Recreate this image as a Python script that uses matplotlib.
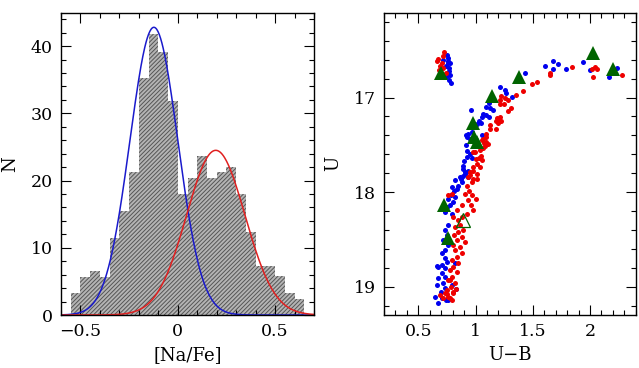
import numpy as np
import matplotlib
matplotlib.use("Agg")
from matplotlib import pyplot as plt
from matplotlib.ticker import MultipleLocator, FuncFormatter

plt.rcParams['font.family'] = ['DejaVu Serif']
plt.rcParams['hatch.linewidth'] = 0.7

# histogram of [Na/Fe], bins of 0.05 starting at -0.55
counts = [3.2, 5.7, 6.5, 5.7, 11.4, 15.5, 21.2, 35.2, 41.8, 39.1, 31.9, 18.0,
          20.4, 23.7, 20.4, 21.2, 22.0, 18.0, 12.3, 7.3, 7.3, 5.8, 3.2, 2.4]
bin_width = 0.05
bin_left = np.round(-0.55 + bin_width * np.arange(len(counts)), 3)

# gaussian fits (amplitude, centre, sigma)
blue_fit = (42.8, -0.123, 0.123)
red_fit = (24.5, 0.195, 0.150)

# CMD, blue (Na-poor) stars
blue_ub = [0.747, 0.762, 0.756, 0.770, 0.762, 0.747, 0.770, 0.782, 0.733, 0.718, 0.741, 0.776,
           0.755, 0.768, 0.775,
           1.43, 1.61, 1.68, 1.72, 1.68, 1.79, 1.94, 2.00, 2.17, 2.24,
           1.212, 1.255, 1.27, 1.322, 1.119, 0.956, 1.095, 1.125, 1.148, 1.066, 1.09, 1.052,
           1.119, 1.032, 1.014, 1.043, 0.936, 0.965, 0.921, 1.052, 0.95, 0.927, 0.95, 0.965,
           0.898, 0.886, 0.921, 0.936, 0.907, 0.863, 0.82, 0.936, 0.892,
           0.907, 0.892, 0.872, 0.878, 0.849, 0.834, 0.814, 0.796, 0.785, 0.82, 0.762, 0.805,
           0.776, 0.747, 0.733, 0.791, 0.762, 0.733, 0.747, 0.718, 0.756, 0.733, 0.704, 0.733,
           0.747, 0.704, 0.733, 0.669, 0.704, 0.733, 0.674, 0.718, 0.66, 0.733, 0.698, 0.645,
           0.704, 0.738, 0.674, 0.762, 0.791, 0.82, 0.66, 0.83, 0.92, 0.92]
blue_u = [16.545, 16.58, 16.633, 16.685, 16.738, 16.773, 16.81, 16.843, 16.783, 16.598, 16.668, 16.633,
          16.61, 16.72, 16.76,
          16.74, 16.67, 16.61, 16.64, 16.70, 16.70, 16.62, 16.71, 16.78, 16.69,
          16.887, 16.923, 16.947, 16.993, 17.052, 17.133, 17.098, 17.112, 17.133, 17.175, 17.182, 17.21,
          17.21, 17.245, 17.28, 17.273, 17.386, 17.361, 17.42, 17.393, 17.438, 17.561, 17.596, 17.638,
          17.673, 17.719, 17.624, 17.772, 17.807, 17.842, 17.87, 17.842, 17.754,
          17.79, 17.825, 17.86, 17.895, 17.93, 17.965, 17.983, 17.947, 18.035, 18.053, 18.07, 18.105,
          18.14, 18.158, 18.21, 18.228, 18.351, 18.404, 18.456, 18.509, 18.561, 18.614, 18.649, 18.702,
          18.737, 18.772, 18.807, 18.79, 18.86, 18.895, 18.912, 18.965, 18.983, 19.018, 19.053, 19.105,
          19.123, 19.14, 19.175, 19.14, 18.983, 18.755, 18.78, 19.03, 17.40, 17.50]

# CMD, red (Na-rich) stars
red_ub = [0.724, 0.674, 0.703, 0.689, 0.683, 0.718, 0.741, 0.666, 0.712,
          1.84, 1.65, 1.65, 1.49, 1.54, 2.04, 2.06, 2.02, 2.03, 2.28,
          1.226, 1.255, 1.284, 1.217, 1.212, 1.246, 1.307, 1.284, 1.351, 1.415,
          1.183, 1.206, 1.177, 1.212, 1.197, 1.226, 1.13, 1.125, 1.177,
          1.066, 1.095, 1.081, 1.11, 1.061, 1.09, 1.095, 0.994, 1.032, 1.052, 1.014, 0.979,
          1.037, 0.979, 1.008, 0.979, 0.95, 1.008, 1.06, 1.07, 1.04, 1.05, 0.98, 1.00,
          0.95, 0.936, 0.965, 0.921, 0.942, 0.907, 0.965, 0.93, 0.959, 0.878, 0.979, 0.921,
          0.878, 0.834, 0.762, 0.791, 0.805, 0.843, 0.863, 0.82, 0.892, 0.849, 0.814, 0.878,
          0.834, 0.907, 0.805, 0.863, 0.82, 0.878, 0.834, 0.791, 0.849, 0.805, 0.776, 0.834,
          0.791, 0.762, 0.82, 0.785, 0.747, 0.805, 0.762, 0.718, 0.791, 0.733, 0.689, 0.776,
          0.75, 0.78, 0.80, 0.83, 1.003]
red_u = [16.517, 16.587, 16.633, 16.668, 16.703, 16.685, 16.738, 16.615, 16.563,
         16.68, 16.74, 16.76, 16.86, 16.84, 16.68, 16.70, 16.70, 16.78, 16.76,
         16.982, 17.0, 17.028, 17.028, 17.07, 17.063, 17.105, 17.14, 16.972, 16.93,
         17.221, 17.238, 17.252, 17.21, 17.273, 17.245, 17.287, 17.333, 17.333,
         17.438, 17.473, 17.508, 17.491, 17.533, 17.414, 17.386, 17.579, 17.638, 17.659, 17.701, 17.737,
         17.737, 17.772, 17.807, 17.859, 17.814, 17.859, 17.45, 17.48, 17.55, 17.62, 17.58, 17.65,
         17.79, 17.842, 17.895, 17.93, 17.983, 18.018, 18.035, 18.088, 18.14, 18.14, 18.193, 18.228,
         18.263, 18.193, 18.035, 18.018, 18.263, 18.298, 18.351, 18.368, 18.396, 18.421, 18.456, 18.474,
         18.509, 18.526, 18.561, 18.579, 18.614, 18.649, 18.684, 18.719, 18.754, 18.79, 18.825, 18.842,
         18.895, 18.93, 18.965, 19.0, 19.035, 19.07, 19.105, 19.123, 19.14, 19.07, 19.088, 18.93,
         19.08, 19.12, 19.06, 19.03, 18.07]

# green triangles (filled) and the one open triangle
tri_ub = [0.695, 1.378, 2.026, 2.20, 1.14, 0.98, 0.985, 1.009, 0.724, 0.756]
tri_u = [16.74, 16.783, 16.528, 16.70, 16.98, 17.27, 17.42, 17.47, 18.136, 18.486]
open_ub = [0.892]
open_u = [18.30]


def gauss(x, amp, mu, sig):
    return amp * np.exp(-0.5 * ((x - mu) / sig) ** 2)


def style_axes(ax):
    ax.tick_params(which='both', direction='in', top=True, right=True, labelsize=12.5)
    ax.tick_params(which='major', length=7, width=0.8, pad=6)
    ax.tick_params(which='minor', length=3.5, width=0.8)
    for s in ax.spines.values():
        s.set_linewidth(1.0)
    ax.xaxis.set_major_formatter(FuncFormatter(lambda v, p: ('%g' % v).replace('-', '\u2212')))
    ax.yaxis.set_major_formatter(FuncFormatter(lambda v, p: '%g' % v))


fig = plt.figure(figsize=(6.39, 3.68), dpi=100)
ax1 = fig.add_axes([0.0955, 0.144, 0.396, 0.822])
ax2 = fig.add_axes([0.601, 0.144, 0.394, 0.822])

# left: histogram + fits
ax1.bar(bin_left, counts, width=bin_width, align='edge', facecolor='#b4b4b4',
        edgecolor='#555555', linewidth=0, hatch='////////')
xx = np.linspace(-0.6, 0.7, 400)
ax1.plot(xx, gauss(xx, *blue_fit), color='#1a1acc', lw=1.1)
ax1.plot(xx, gauss(xx, *red_fit), color='#e02020', lw=1.1)
ax1.set_xlim(-0.6, 0.7)
ax1.set_ylim(0, 45)
ax1.xaxis.set_major_locator(MultipleLocator(0.5))
ax1.xaxis.set_minor_locator(MultipleLocator(0.1))
ax1.yaxis.set_major_locator(MultipleLocator(10))
ax1.yaxis.set_minor_locator(MultipleLocator(2))
ax1.set_xlabel('[Na/Fe]', fontsize=13)
ax1.set_ylabel('N', fontsize=13, labelpad=8)
style_axes(ax1)

# right: CMD
ax2.plot(blue_ub, blue_u, 'o', color='#0000ee', ms=3.6, mew=0, zorder=3)
ax2.plot(red_ub, red_u, 'o', color='#ee0000', ms=3.6, mew=0, zorder=3)
ax2.plot(tri_ub, tri_u, '^', color='#006400', ms=10.5, mew=0, zorder=4)
ax2.plot(open_ub, open_u, '^', mfc='none', mec='#006400', ms=10.5, mew=0.9, zorder=4)
ax2.set_xlim(0.2, 2.4)
ax2.set_ylim(19.3, 16.1)
ax2.xaxis.set_major_locator(MultipleLocator(0.5))
ax2.xaxis.set_minor_locator(MultipleLocator(0.1))
ax2.yaxis.set_major_locator(MultipleLocator(1))
ax2.yaxis.set_minor_locator(MultipleLocator(0.2))
ax2.set_xlabel('U\u2212B', fontsize=13)
ax2.set_ylabel('U', fontsize=13, labelpad=8)
style_axes(ax2)

fig.savefig('out.png', dpi=100)
